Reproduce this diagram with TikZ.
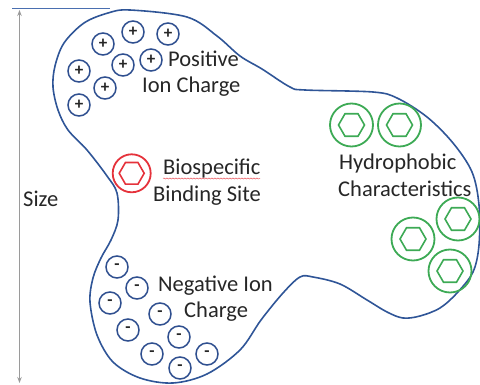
\documentclass[tikz,border=0pt]{standalone}
\usepackage{fontspec}
\setmainfont{Carlito}
\usetikzlibrary{arrows.meta,decorations.pathmorphing}
\definecolor{blobblue}{HTML}{2F5597}
\definecolor{ionblue}{HTML}{2F4F8F}
\definecolor{sitered}{HTML}{E5323B}
\definecolor{hydgreen}{HTML}{3DAA55}
\definecolor{dimgray}{HTML}{9A9A9A}
\definecolor{toplineblue}{HTML}{4A6FB0}
\tikzset{
  lbl/.style={anchor=base west, inner sep=0pt, font=\fontsize{22.5}{26}\selectfont, text=black!85},
  ionpos/.style={circle, draw=ionblue, line width=1.5pt, minimum size=22pt, inner sep=0pt, font=\fontsize{17}{17}\selectfont\bfseries, text=black!85},
  ring/.style={circle, line width=1.8pt, inner sep=0pt},
  redring/.style={ring, draw=sitered, minimum size=38pt},
  greenring/.style={ring, draw=hydgreen, minimum size=43pt},
  hexline/.style={line width=1.6pt, line join=miter},
}
\newcommand{\hexat}[3]{\draw[hexline,#3,shift={(#1)}] (0:#2) -- (60:#2) -- (120:#2) -- (180:#2) -- (240:#2) -- (300:#2) -- cycle;}
\begin{document}
\begin{tikzpicture}[x=1pt,y=-1pt]
\useasboundingbox (0,0) rectangle (480,385);
% outline
\draw[blobblue, line width=1.6pt] plot[smooth cycle, tension=0.55] coordinates {
 (130,10) (187,17) (217,36) (240,56) (262,69) (290,87) (305,90) (373,92) (397,98)
 (427,117) (453,143) (472,172) (479,205) (479,245) (473,272) (457,293) (440,308)
 (420,316) (403,318) (387,312) (367,300) (340,284) (313,277) (300,277) (283,293)
 (261,320) (240,350) (207,374) (173,383) (140,378) (113,362) (97,335) (90,302)
 (93,278) (101,258) (111,240) (118,220) (117,193) (107,176) (87,150) (68,130) (58,110)
 (53,87) (55,66) (64,43) (84,23) (108,13)};
% size dimension
\coordinate (topL) at (12,9);
\coordinate (topR) at (110,9);
\coordinate (arrT) at (19.5,10);
\coordinate (arrB) at (19.5,383);
\draw[toplineblue, line width=1pt] (topL) -- (topR);
\draw[dimgray, line width=1pt, {Stealth[length=6pt,width=4.5pt]}-{Stealth[length=6pt,width=4.5pt]}] (arrT) -- (arrB);
\node[lbl] (size) at (23,207) {Size};
% positive ions
\foreach \n/\p in {p1/{(133,32)}, p2/{(168,34)}, p3/{(103,44)}, p4/{(151,60)}, p5/{(123,65)}, p6/{(79,71)}, p7/{(105,88)}, p8/{(79,105)}}
  \node[ionpos] (\n) at \p {+};
\node[lbl] (posA) at (168,67) {Positive};
\node[lbl] (posB) at (142,93) {Ion Charge};
% negative ions
\foreach \n/\p in {n1/{(117,267)}, n2/{(137,288)}, n3/{(110,303)}, n4/{(160,314)}, n5/{(128,330)}, n6/{(179,337)}, n7/{(152,354)}, n8/{(207,354)}, n9/{(180,368)}}
  \node[ionpos] (\n) at \p {-};
\node[lbl] (negA) at (158,292) {Negative Ion};
\node[lbl] (negB) at (184,318) {Charge};
% biospecific site
\node[redring] (bio) at (131.7,173.3) {};
\hexat{bio}{12.5}{sitered}
\node[lbl] (bioA) at (163,175) {Biospecific};
\node[lbl] (bioB) at (153,202) {Binding Site};
\coordinate (ulA) at (163,178.5);
\coordinate (ulB) at (260,178.5);
\draw[sitered!80, line width=0.5pt, decorate, decoration={snake, amplitude=0.5pt, segment length=3pt}] (ulA) -- (ulB);
% hydrophobic
\foreach \n/\p in {g1/{(351.5,125)}, g2/{(399.5,125)}, g3/{(413,239)}, g4/{(458,219)}, g5/{(450,271)}}{
  \node[greenring] (\n) at \p {};
  \hexat{\n}{13}{hydgreen}
}
\node[lbl] (hydA) at (339,170) {Hydrophobic};
\node[lbl] (hydB) at (338,197) {Characteristics};
\end{tikzpicture}
\end{document}
